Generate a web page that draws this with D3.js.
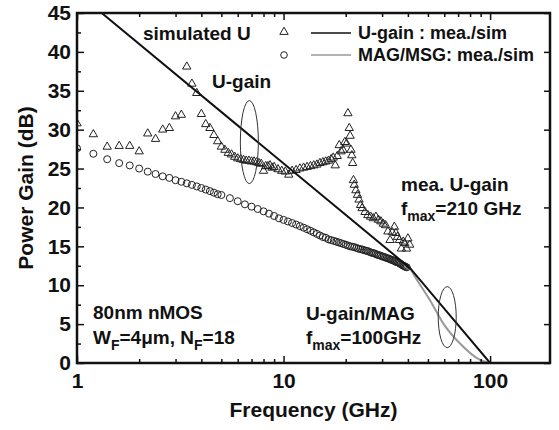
<!DOCTYPE html>
<html>
<head>
<meta charset="utf-8">
<script src="https://cdn.jsdelivr.net/npm/d3@7"></script>
<style>
  body { margin: 0; background: #fff; }
  text { font-family: "Liberation Sans", Arial, sans-serif; font-weight: bold; fill: #111; }
</style>
</head>
<body>
<div id="vis"></div>
<script>
// measured MAG/MSG (circles), frequency in GHz and gain in dB
var circFreq = [1.0, 1.2, 1.4, 1.6, 1.8, 2.0, 2.2, 2.4, 2.6, 2.8, 3.0, 3.2, 3.4, 3.6, 3.8, 4.0, 4.2, 4.4, 4.6, 4.8, 5.0,
  5.5, 6.0, 6.5, 7.0, 7.5, 8.0, 8.5, 9.0, 9.5, 10,
  10.5, 11, 11.5, 12, 12.5, 13, 13.5, 14, 14.5, 15, 15.5, 16, 16.5, 17, 17.5, 18, 18.5, 19, 19.5, 20,
  20.5, 21, 21.5, 22, 22.5, 23, 23.5, 24, 24.5, 25, 25.5, 26, 26.5, 27, 27.5, 28, 28.5, 29, 29.5, 30,
  30.5, 31, 31.5, 32, 32.5, 33, 33.5, 34, 34.5, 35, 35.5, 36, 36.5, 37, 37.5, 38, 38.5, 39, 39.5];
var circGain = [27.6, 26.9, 26.2, 25.7, 25.4, 25.0, 24.6, 24.3, 24.0, 23.8, 23.5, 23.3, 23.1, 22.9, 22.7, 22.5, 22.3, 22.1, 21.9, 21.7, 21.6,
  21.2, 20.8, 20.4, 20.1, 19.8, 19.5, 19.2, 18.9, 18.6, 18.4,
  18.2, 18.0, 17.8, 17.6, 17.4, 17.2, 17.0, 16.8, 16.6, 16.4, 16.2, 16.1, 15.9, 15.8, 15.7, 15.6, 15.5, 15.4, 15.3, 15.2,
  15.1, 15.0, 14.95, 14.9, 14.8, 14.7, 14.65, 14.6, 14.5, 14.45, 14.4, 14.3, 14.2, 14.15, 14.1, 14.0, 13.9, 13.85, 13.8, 13.7,
  13.65, 13.6, 13.5, 13.45, 13.4, 13.3, 13.25, 13.2, 13.1, 13.0, 12.95, 12.9, 12.8, 12.7, 12.6, 12.5, 12.45, 12.35, 12.3];

// measured U-gain (triangles)
var triFreq = [1.0, 1.2, 1.4, 1.6, 1.8, 2.0, 2.2, 2.4, 2.6, 2.8, 3.0, 3.2, 3.4, 3.6, 3.8, 4.0, 4.2, 4.4, 4.6, 4.8,
  5.0, 5.2, 5.4, 5.6, 5.8, 6.0, 6.2, 6.4, 6.6, 6.8, 7.0, 7.2, 7.4, 7.6, 7.8, 8.0, 8.2, 8.4, 8.6, 8.8,
  9.0, 9.4, 9.8, 10.2, 10.6, 11.0, 11.5, 12.0, 12.5, 13.0, 13.5, 14.0, 14.5, 15.0, 15.5, 16.0, 16.5,
  17.0, 17.4, 17.8, 18.2, 18.6, 19.0, 19.4, 19.8, 20.2, 20.5, 20.8, 21.0, 21.2, 21.4, 21.6, 21.8, 22.0,
  22.4, 22.8, 23.2, 23.6, 24.0, 24.8, 25.6, 26.4, 27.2, 28.0, 28.8, 29.6, 30.4, 31.2, 32.0, 32.8, 33.6,
  34.4, 35.0, 35.6, 36.4, 37.2, 38.0, 38.6, 39.4, 40.0, 40.8];
var triGain = [30.8, 29.4, 27.8, 27.9, 27.9, 27.2, 29.5, 28.8, 30.0, 30.2, 31.7, 31.9, 38.1, 35.9, 34.7, 32.0, 30.7, 30.2, 29.3, 28.5,
  27.8, 27.4, 27.0, 26.8, 26.5, 26.3, 26.2, 26.1, 26.0, 26.0, 25.9, 25.9, 25.8, 25.7, 25.6, 24.7, 25.3, 25.3, 25.4, 25.1,
  25.2, 24.9, 24.7, 24.6, 24.2, 24.7, 24.8, 25.0, 25.1, 25.2, 25.3, 25.4, 25.5, 25.7, 25.8, 25.9, 26.0,
  26.2, 26.4, 25.4, 26.6, 28.0, 27.2, 27.4, 28.4, 28.2, 32.1, 30.2, 29.2, 27.4, 26.7, 25.7, 23.5, 22.9,
  22.2, 21.6, 21.0, 20.3, 19.9, 19.4, 19.0, 18.8, 18.6, 18.8, 18.4, 18.2, 17.9, 17.7, 16.9, 15.8, 16.8,
  17.5, 16.7, 16.2, 15.8, 14.7, 15.6, 15.4, 14.7, 16.0, 15.2];

// simulated U-gain (black line) and simulated MAG/MSG (gray line)
var simUFreq = [1.317, 41, 100];
var simUGain = [45, 12.2, 0];
var simMagFreq = [41, 42.4, 51.1, 59.3, 71.5, 89.4, 100];
var simMagGain = [12.2, 11.5, 8.1, 5.1, 2.5, 0.4, 0];

// ticks
var xMajorTicks = [1, 10, 100];
var xMinorTicks = [2, 3, 4, 5, 6, 7, 8, 9, 20, 30, 40, 50, 60, 70, 80, 90];
var yMajorTicks = [0, 5, 10, 15, 20, 25, 30, 35, 40, 45];
var yMinorTicks = [2.5, 7.5, 12.5, 17.5, 22.5, 27.5, 32.5, 37.5, 42.5];

var W = 559, H = 430;
var margin = { top: 13, right: 9, bottom: 67, left: 77 };
var width = W - margin.left - margin.right;
var height = H - margin.top - margin.bottom;

var root = d3.select("#vis").append("svg").attr("width", W).attr("height", H);
var svg = root.append("g").attr("transform", `translate(${margin.left}, ${margin.top})`);

var x = d3.scaleLog().domain([1, 195]).range([0, width]);
var y = d3.scaleLinear().domain([0, 45]).range([height, 0]);

svg.append("clipPath").attr("id", "clip")
  .append("rect").attr("width", width).attr("height", height);

var plot = svg.append("g").attr("clip-path", "url(#clip)");

// circles
var circ = circFreq.map((f, i) => [f, circGain[i]]);
plot.selectAll("circle.mag").data(circ).enter().append("circle")
  .attr("class", "mag")
  .attr("cx", (d) => x(d[0]))
  .attr("cy", (d) => y(d[1]))
  .attr("r", 3.5)
  .attr("fill", "none")
  .attr("stroke", "#222")
  .attr("stroke-width", 1);

// triangles
var tri = triFreq.map((f, i) => [f, triGain[i]]);
var triSym = d3.symbol(d3.symbolTriangle).size(30);
plot.selectAll("path.ug").data(tri).enter().append("path")
  .attr("class", "ug")
  .attr("d", triSym)
  .attr("transform", (d) => `translate(${x(d[0])}, ${y(d[1])})`)
  .attr("fill", "none")
  .attr("stroke", "#222")
  .attr("stroke-width", 1);

// simulated lines
plot.append("path")
  .datum(simMagFreq.map((f, i) => [f, simMagGain[i]]))
  .attr("d", d3.line().x((d) => x(d[0])).y((d) => y(d[1])).curve(d3.curveMonotoneX))
  .attr("fill", "none").attr("stroke", "#999").attr("stroke-width", 2);
plot.append("path")
  .datum(simUFreq.map((f, i) => [f, simUGain[i]]))
  .attr("d", d3.line().x((d) => x(d[0])).y((d) => y(d[1])))
  .attr("fill", "none").attr("stroke", "#111").attr("stroke-width", 2);

// ellipses marking the curve groups
svg.append("ellipse").attr("cx", x(6.83)).attr("cy", y(28.4)).attr("rx", 9).attr("ry", 41.5)
  .attr("fill", "none").attr("stroke", "#333").attr("stroke-width", 1);
svg.append("ellipse").attr("cx", x(62)).attr("cy", y(5.9)).attr("rx", 9).attr("ry", 30.5)
  .attr("fill", "none").attr("stroke", "#333").attr("stroke-width", 1);

// axes
function styleAxis(g) {
  g.select(".domain").remove();
  g.selectAll(".tick line").attr("stroke", "#111").attr("stroke-width", 1.5);
  g.selectAll("text").style("font-size", "21px").attr("fill", "#111");
}
svg.append("g").attr("transform", `translate(0, ${height})`)
  .call(d3.axisBottom(x).tickValues(xMajorTicks).tickFormat(d3.format("d")).tickSize(-7).tickPadding(10))
  .call(styleAxis);
svg.append("g").attr("transform", `translate(0, ${height})`)
  .call(d3.axisBottom(x).tickValues(xMinorTicks).tickFormat("").tickSize(-4))
  .call(styleAxis);
svg.append("g")
  .call(d3.axisTop(x).tickValues(xMajorTicks).tickFormat("").tickSize(-7))
  .call(styleAxis);
svg.append("g")
  .call(d3.axisTop(x).tickValues(xMinorTicks).tickFormat("").tickSize(-4))
  .call(styleAxis);
svg.append("g")
  .call(d3.axisLeft(y).tickValues(yMajorTicks).tickSize(-7).tickPadding(6))
  .call(styleAxis);
svg.append("g")
  .call(d3.axisLeft(y).tickValues(yMinorTicks).tickFormat("").tickSize(-4))
  .call(styleAxis);
svg.append("g").attr("transform", `translate(${width}, 0)`)
  .call(d3.axisRight(y).tickValues(yMajorTicks).tickFormat("").tickSize(-6))
  .call(styleAxis);

// frame
svg.append("rect").attr("width", width).attr("height", height)
  .attr("fill", "none").attr("stroke", "#111").attr("stroke-width", 2.5);

// axis titles
root.append("text").attr("x", margin.left + width / 2).attr("y", 417)
  .attr("text-anchor", "middle").style("font-size", "21px").text("Frequency (GHz)");
root.append("text").attr("transform", `translate(33, ${margin.top + height / 2}) rotate(-90)`)
  .attr("text-anchor", "middle").style("font-size", "21px").text("Power Gain (dB)");

// legend
var lg = root.append("g");
lg.append("path").attr("d", triSym).attr("transform", "translate(284, 32)")
  .attr("fill", "none").attr("stroke", "#222");
lg.append("line").attr("x1", 311).attr("x2", 351).attr("y1", 33).attr("y2", 33)
  .attr("stroke", "#111").attr("stroke-width", 1.5);
lg.append("text").attr("x", 358).attr("y", 39).style("font-size", "18px").text("U-gain : mea./sim");
lg.append("circle").attr("cx", 284).attr("cy", 55).attr("r", 3.3)
  .attr("fill", "none").attr("stroke", "#222");
lg.append("line").attr("x1", 311).attr("x2", 351).attr("y1", 55).attr("y2", 55)
  .attr("stroke", "#999").attr("stroke-width", 1.5);
lg.append("text").attr("x", 358).attr("y", 61).style("font-size", "18px").text("MAG/MSG: mea./sim");

// annotations; {s: "..."} parts are subscripts
function note(xp, yp, parts) {
  var t = root.append("text").attr("x", xp).attr("y", yp).style("font-size", "19px");
  var shift = 0;
  parts.forEach((p) => {
    if (typeof p === "object") {
      t.append("tspan").attr("dy", 6 - shift).style("font-size", "14px").text(p.s);
      shift = 6;
    } else {
      t.append("tspan").attr("dy", -shift).text(p);
      shift = 0;
    }
  });
}
note(143, 40, ["simulated U"]);
note(212, 88, ["U-gain"]);
note(401, 191, ["mea. U-gain"]);
note(401, 215, ["f", { s: "max" }, "=210 GHz"]);
note(306, 320, ["U-gain/MAG"]);
note(306, 344, ["f", { s: "max" }, "=100GHz"]);
note(93, 319, ["80nm nMOS"]);
note(93, 344, ["W", { s: "F" }, "=4\u03bcm, N", { s: "F" }, "=18"]);
</script>
</body>
</html>
